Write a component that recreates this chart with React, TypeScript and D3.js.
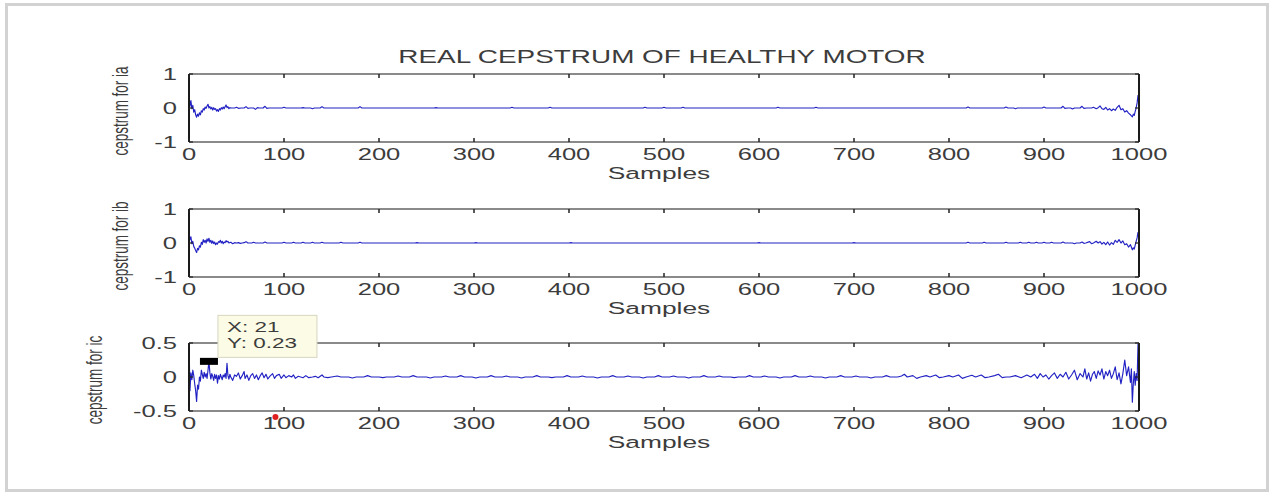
import React from "react";
import * as d3 from "d3";

// ---------- data ----------
const titleText = "REAL CEPSTRUM OF HEALTHY MOTOR";
const xLabelText = "Samples";
const xTickValues = [0, 100, 200, 300, 400, 500, 600, 700, 800, 900, 1000];
const yLabels = ["cepstrum for ia", "cepstrum for ib", "cepstrum for ic"];
const yTicksA = [-1, 0, 1];
const yTicksB = [-1, 0, 1];
const yTicksC = [-0.5, 0, 0.5];
const yTickTextC = ["-0.5", "0", "0.5"];

const cepstrumIa: [number, number][] = [
  [0, 0.38], [1, 0.05], [2, 0.22], [3, -0.02], [4, 0.08], [5, -0.12], [6, -0.05], [7, -0.2], [8, -0.27], [9, -0.18],
  [10, -0.24], [11, -0.14], [12, -0.2], [13, -0.08], [14, -0.12], [15, -0.02], [16, -0.06], [17, 0.03], [18, -0.01], [19, 0.06],
  [20, 0.11], [21, 0.0], [22, 0.04], [23, -0.03], [24, 0.02], [25, -0.06], [26, 0.01], [27, -0.04], [28, -0.02], [29, -0.09],
  [30, -0.05], [31, -0.1], [32, -0.02], [33, -0.06], [34, 0.01], [35, -0.03], [36, 0.03], [37, -0.02], [38, 0.04], [39, 0.09],
  [40, 0.01], [41, 0.04], [42, -0.02], [43, 0.01], [44, 0.0], [48, 0.0], [50, 0.02], [52, -0.01], [55, 0.0], [58, 0.0],
  [60, 0.04], [62, -0.01], [64, 0.0], [68, 0.0], [70, -0.04], [72, 0.01], [74, 0.0], [78, 0.0], [80, 0.05], [82, -0.01],
  [84, 0.0], [98, 0.0], [100, 0.02], [102, 0.0], [118, 0.0], [120, 0.01], [122, 0.0], [128, 0.0], [130, -0.02], [132, 0.0],
  [138, 0.0], [140, 0.04], [142, 0.0], [178, 0.0], [180, 0.04], [182, 0.0], [258, 0], [260, 0.01], [262, 0], [338, 0],
  [340, 0.02], [342, 0], [378, 0], [380, 0.02], [382, 0], [478, 0], [480, 0.02], [482, 0], [498, 0], [500, 0.02],
  [502, 0], [518, 0], [520, 0.02], [522, 0], [618, 0], [620, 0.02], [622, 0], [658, 0], [660, 0.02], [662, 0],
  [818, 0], [820, 0.03], [822, 0], [858, 0], [860, 0.03], [862, 0], [868, 0], [870, -0.02], [872, 0], [898, 0],
  [900, 0.03], [902, 0], [918, 0], [920, 0.05], [922, -0.01], [925, 0], [928, 0.0], [930, -0.03], [932, 0.0], [938, 0],
  [940, 0.05], [942, -0.01], [945, 0], [950, 0.0], [952, 0.02], [955, -0.02], [957, 0.01], [959, 0.06], [961, -0.02], [963, -0.04],
  [965, 0.02], [967, -0.06], [969, -0.02], [971, -0.08], [973, -0.03], [975, -0.07], [977, 0.02], [979, 0.08], [981, -0.05], [983, -0.02],
  [985, -0.12], [987, -0.08], [989, -0.15], [991, -0.2], [993, -0.26], [994, -0.18], [995, -0.22], [996, -0.1], [997, 0.0], [998, 0.15],
  [999, 0.38],
];

const cepstrumIb: [number, number][] = [
  [0, 0.32], [1, 0.1], [2, 0.18], [3, -0.02], [4, 0.05], [5, -0.1], [6, -0.15], [7, -0.22], [8, -0.28], [9, -0.16],
  [10, -0.2], [11, -0.08], [12, -0.12], [13, 0.02], [14, -0.04], [15, 0.1], [16, 0.02], [17, 0.08], [18, 0.0], [19, 0.12],
  [20, 0.05], [21, 0.14], [22, 0.02], [23, 0.08], [24, -0.01], [25, 0.06], [26, -0.02], [27, 0.03], [28, -0.05], [29, 0.0],
  [30, -0.03], [31, 0.04], [32, 0.02], [33, 0.08], [34, 0.0], [35, 0.05], [36, -0.02], [37, 0.03], [38, 0.01], [39, 0.07],
  [40, 0.03], [41, 0.05], [42, 0.0], [44, 0.02], [46, -0.02], [48, 0.01], [50, 0.0], [52, 0.01], [54, -0.01], [56, 0.0],
  [58, 0.01], [60, 0.04], [62, 0.0], [66, 0.0], [68, 0.02], [70, 0.0], [78, 0.0], [80, 0.03], [82, 0.0], [98, 0],
  [100, 0.02], [102, 0], [108, 0], [110, 0.02], [112, 0], [118, 0], [120, 0.02], [122, 0], [128, 0], [130, 0.02],
  [132, 0], [138, 0], [140, 0.02], [142, 0], [158, 0], [160, 0.02], [162, 0], [178, 0], [180, 0.02], [182, 0],
  [238, 0], [240, 0.01], [242, 0], [300, 0], [302, 0.01], [304, 0], [400, 0], [402, 0.01], [404, 0], [598, 0],
  [600, 0.01], [602, 0], [698, 0], [700, 0.01], [702, 0], [818, 0], [820, 0.02], [822, 0], [835, 0], [837, 0.02],
  [839, 0], [858, 0], [860, 0.02], [862, 0], [873, 0], [875, 0.02], [877, 0], [882, 0], [884, 0.02], [886, 0],
  [890, 0], [892, 0.02], [894, 0], [898, 0], [900, 0.02], [902, 0], [906, 0], [908, 0.02], [910, 0], [918, 0],
  [920, 0.03], [922, 0], [930, 0], [932, -0.02], [934, 0], [938, 0], [940, 0.03], [942, -0.01], [944, 0], [948, 0.04],
  [950, -0.02], [952, 0.0], [955, 0.05], [957, 0.0], [959, 0.04], [961, -0.03], [963, 0.02], [965, -0.05], [967, 0.03], [969, -0.06],
  [971, 0.01], [973, -0.04], [975, 0.08], [977, 0.02], [979, 0.1], [981, 0.0], [983, 0.06], [985, -0.05], [987, -0.02], [989, -0.12],
  [991, -0.05], [993, -0.2], [994, -0.14], [995, -0.18], [996, -0.06], [997, 0.05], [998, 0.15], [999, 0.32],
];

const cepstrumIc: [number, number][] = [
  [0, 0.5], [1, -0.2], [2, 0.06], [3, -0.04], [4, 0.1], [5, 0.02], [6, -0.1], [7, -0.2], [8, -0.36], [9, -0.12],
  [10, -0.18], [11, 0.0], [12, -0.06], [13, 0.1], [14, 0.04], [15, -0.02], [16, 0.07], [17, 0.0], [18, 0.05], [19, -0.02],
  [20, 0.1], [21, 0.23], [22, 0.06], [23, -0.03], [24, 0.05], [25, 0.01], [26, -0.05], [27, 0.04], [28, -0.02], [29, 0.03],
  [30, -0.09], [31, 0.02], [32, -0.03], [33, 0.04], [34, 0.0], [35, -0.04], [36, 0.03], [37, 0.0], [38, 0.05], [39, -0.02],
  [40, 0.2], [41, 0.02], [42, -0.03], [43, 0.04], [44, 0.0], [46, -0.05], [48, 0.03], [50, 0.01], [52, 0.06], [54, -0.03],
  [56, 0.02], [58, 0.08], [59, -0.02], [61, 0.03], [63, -0.05], [65, 0.02], [67, 0.05], [69, -0.02], [71, 0.03], [73, -0.04],
  [75, 0.02], [77, 0.06], [79, -0.01], [81, 0.04], [83, -0.03], [85, 0.01], [88, 0.05], [90, -0.02], [92, 0.02], [95, 0.04],
  [97, -0.02], [100, 0.03], [102, -0.01], [105, 0.02], [108, 0.0], [110, 0.03], [112, -0.02], [115, 0.01], [120, -0.01], [123, 0.02],
  [126, -0.01], [130, 0.0], [133, 0.01], [136, -0.01], [140, 0.03], [142, 0.0], [146, -0.01], [150, 0], [156, 0.015], [160, 0],
  [168, 0], [172, -0.015], [176, 0], [184, 0], [188, 0.02], [192, 0], [200, 0], [204, -0.01], [208, 0], [216, 0],
  [220, 0.015], [224, 0], [232, 0], [236, 0.02], [240, 0], [250, 0], [254, -0.015], [258, 0], [266, 0], [270, 0.015],
  [274, 0], [282, 0], [286, 0.02], [290, 0], [298, 0], [302, -0.015], [306, 0], [314, 0], [318, 0.02], [322, 0],
  [330, 0], [334, 0.015], [338, 0], [346, 0], [350, -0.015], [354, 0], [362, 0], [366, 0.02], [370, 0], [378, 0],
  [382, -0.01], [386, 0], [394, 0], [398, 0.02], [402, 0], [410, 0], [414, 0.015], [418, 0], [426, 0], [430, -0.015],
  [434, 0], [442, 0], [446, 0.02], [450, 0], [458, 0], [462, 0.015], [466, 0], [474, 0], [478, -0.015], [482, 0],
  [490, 0], [494, 0.02], [498, 0], [506, 0], [510, 0.015], [514, 0], [522, 0], [526, -0.015], [530, 0], [538, 0],
  [542, 0.02], [546, 0], [554, 0], [558, 0.015], [562, 0], [570, 0], [574, -0.01], [578, 0], [586, 0], [590, 0.02],
  [594, 0], [602, 0], [606, 0.015], [610, 0], [618, 0], [622, -0.015], [626, 0], [634, 0], [638, 0.02], [642, 0],
  [650, 0], [654, 0.015], [658, 0], [666, 0], [670, -0.015], [674, 0], [682, 0], [686, 0.02], [690, 0], [698, 0],
  [702, 0.015], [706, 0], [714, 0], [718, -0.015], [722, 0], [730, 0], [734, 0.02], [738, 0], [746, 0], [750, 0.015],
  [753, 0.04], [756, 0], [762, 0.02], [766, -0.02], [770, 0], [776, 0.02], [780, 0], [786, 0.03], [790, -0.01], [794, 0],
  [800, 0.02], [804, 0], [810, 0.03], [814, -0.02], [818, 0], [824, 0.025], [828, 0], [834, 0.03], [838, -0.01], [842, 0],
  [848, 0.02], [852, 0.04], [856, -0.01], [860, 0], [864, 0.0], [870, 0.02], [876, -0.01], [882, 0.03], [886, 0.0], [890, 0.04],
  [893, -0.02], [896, 0.05], [899, 0.0], [902, 0.03], [905, -0.03], [908, 0.02], [911, 0.06], [914, -0.02], [917, 0.04], [920, 0.0],
  [923, 0.07], [926, -0.03], [929, 0.03], [932, 0.1], [935, -0.04], [938, 0.05], [941, 0.0], [943, 0.12], [945, -0.03], [947, 0.06],
  [949, -0.06], [951, 0.04], [953, 0.08], [955, -0.02], [957, 0.09], [959, 0.03], [961, 0.12], [963, -0.03], [965, 0.08], [967, 0.02],
  [969, 0.1], [971, -0.02], [973, 0.05], [975, 0.15], [977, -0.04], [979, 0.06], [981, -0.1], [983, 0.05], [985, 0.25], [987, 0.02],
  [989, 0.15], [991, -0.08], [992, 0.12], [993, -0.37], [994, -0.1], [995, 0.08], [996, -0.12], [997, 0.05], [998, -0.05], [999, 0.5],
];

// data tip on the third panel
const tipSample = 21;
const tipValue = 0.23;
const tipLines = ["X: 21", "Y: 0.23"];
// stray red marker below the third panel
const redSample = 91;
const redValue = -0.59;

// ---------- layout ----------
const W = 1274;
const H = 493;
const SX = 1.55; // horizontal stretch of the original bitmap text
const SXL = 1.7;
const FONT = "'Liberation Sans', Arial, Helvetica, sans-serif";
const TXT = "#3c3c3c";
const X0 = 189;
const X1 = 1139;

const xScale = d3.scaleLinear().domain([0, 1000]).range([X0, X1]);

type PanelSpec = {
  top: number;
  bottom: number;
  domain: [number, number];
  ticks: number[];
  tickText: string[];
  data: [number, number][];
  label: string;
  labelX: number;
};

const panels: PanelSpec[] = [
  { top: 74, bottom: 142, domain: [-1, 1], ticks: yTicksA, tickText: yTicksA.map(String), data: cepstrumIa, label: yLabels[0], labelX: 128 },
  { top: 209, bottom: 277, domain: [-1, 1], ticks: yTicksB, tickText: yTicksB.map(String), data: cepstrumIb, label: yLabels[1], labelX: 128 },
  { top: 343, bottom: 411, domain: [-0.5, 0.5], ticks: yTicksC, tickText: yTickTextC, data: cepstrumIc, label: yLabels[2], labelX: 102 },
];

function SText(props: {
  x: number;
  y: number;
  size: number;
  anchor?: string;
  rotate?: boolean;
  fill?: string;
  sx?: number;
  children: React.ReactNode;
}) {
  const { x, y, size, anchor = "middle", rotate = false, fill = TXT, sx = SX, children } = props;
  return (
    <text
      transform={`translate(${x},${y}) scale(${sx},1)${rotate ? " rotate(-90)" : ""}`}
      textAnchor={anchor as any}
      fontSize={size}
      fontFamily={FONT}
      fill={fill}
    >
      {children}
    </text>
  );
}

function Panel({ p }: { p: PanelSpec }) {
  const y = d3.scaleLinear().domain(p.domain).range([p.bottom, p.top]);
  const line = d3
    .line<[number, number]>()
    .x((d) => xScale(d[0]))
    .y((d) => y(d[1]));
  const tickLen = 4;
  return (
    <g>
      <path d={line(p.data) || ""} fill="none" stroke="#2222c4" strokeWidth={1.15} strokeLinejoin="round" />
      {/* box */}
      <line x1={X0} x2={X1} y1={p.top} y2={p.top} stroke="#8a8a8a" strokeWidth={2} />
      <line x1={X0} x2={X1} y1={p.bottom} y2={p.bottom} stroke="#8a8a8a" strokeWidth={2} />
      <line x1={X0} x2={X0} y1={p.top} y2={p.bottom} stroke="#1a1a1a" strokeWidth={2} />
      <line x1={X1} x2={X1} y1={p.top} y2={p.bottom} stroke="#1a1a1a" strokeWidth={2} />
      {/* x ticks */}
      {xTickValues.map((t) => (
        <g key={"xt" + t}>
          <line x1={xScale(t)} x2={xScale(t)} y1={p.bottom} y2={p.bottom - tickLen} stroke="#222" strokeWidth={1.5} />
          <line x1={xScale(t)} x2={xScale(t)} y1={p.top} y2={p.top + tickLen} stroke="#222" strokeWidth={1.5} />
          <SText x={xScale(t)} y={p.bottom + 18} size={16.5}>
            {String(t)}
          </SText>
        </g>
      ))}
      {/* y ticks */}
      {p.ticks.map((t, i) => (
        <g key={"yt" + t}>
          <line x1={X0} x2={X0 + tickLen} y1={y(t)} y2={y(t)} stroke="#222" strokeWidth={1.2} />
          <line x1={X1} x2={X1 - tickLen} y1={y(t)} y2={y(t)} stroke="#222" strokeWidth={1.2} />
          <SText x={X0 - 12} y={y(t) + 6} size={16.5} anchor="end">
            {p.tickText[i]}
          </SText>
        </g>
      ))}
      <SText x={(X0 + X1) / 2 - 5} y={p.bottom + 37} size={17}>
        {xLabelText}
      </SText>
      <SText x={p.labelX} y={(p.top + p.bottom) / 2 + 3} size={13.5} rotate sx={SXL}>
        {p.label}
      </SText>
    </g>
  );
}

export default function App() {
  const p3 = panels[2];
  const y3 = d3.scaleLinear().domain(p3.domain).range([p3.bottom, p3.top]);
  const tx = xScale(tipSample);
  const ty = y3(tipValue);
  return (
    <svg
      width={W}
      height={H}
      viewBox={`0 0 ${W} ${H}`}
      style={{ position: "absolute", left: 0, top: 0, background: "#fff" }}
    >
      <rect x={0} y={0} width={W} height={H} fill="#fff" />
      <rect x={6.5} y={4.5} width={1261} height={486} fill="#fff" stroke="#d2d2d2" strokeWidth={3} />
      <SText x={662} y={63} size={18}>
        {titleText}
      </SText>
      {panels.map((p, i) => (
        <Panel key={i} p={p} />
      ))}
      {/* data tip */}
      <rect x={tx - 9} y={ty - 3.5} width={18} height={7} fill="#000" />
      <rect x={tx + 9} y={ty - 46} width={99} height={42} fill="#fcfce6" stroke="#d6d6c0" strokeWidth={1} />
      <SText x={tx + 18} y={ty - 29} size={14.5} anchor="start">
        {tipLines[0]}
      </SText>
      <SText x={tx + 18} y={ty - 13} size={14.5} anchor="start">
        {tipLines[1]}
      </SText>
      {/* red marker */}
      <circle cx={xScale(redSample)} cy={y3(redValue)} r={3} fill="#e02020" />
    </svg>
  );
}
